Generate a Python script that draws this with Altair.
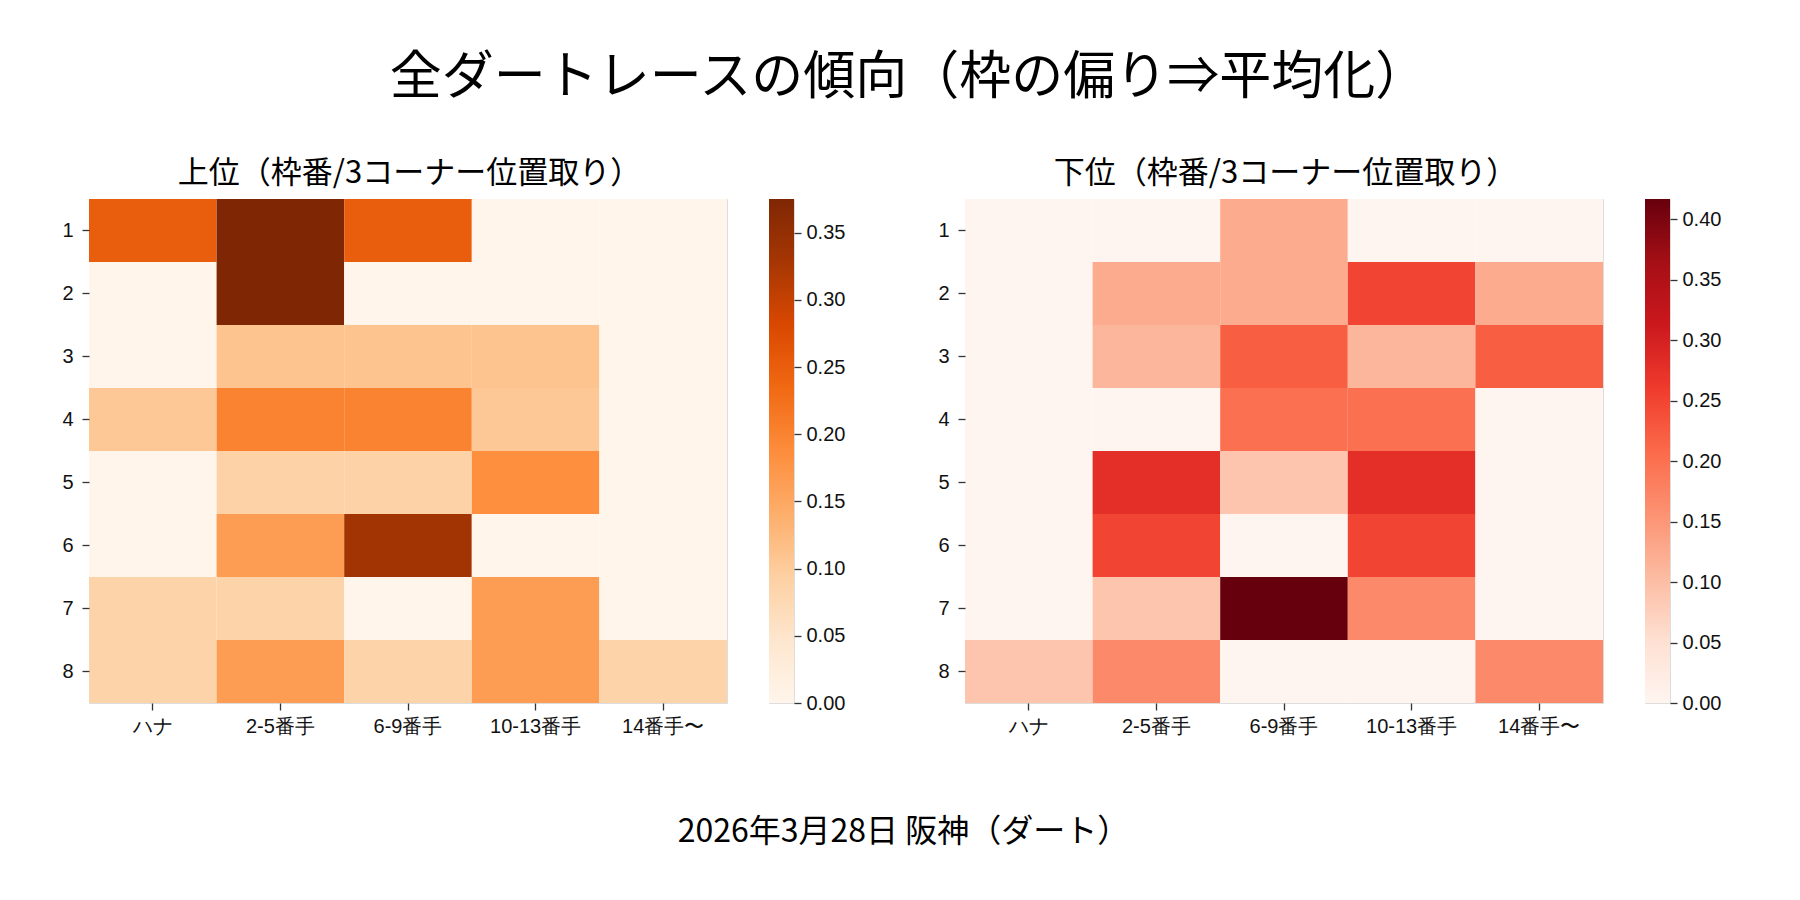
import altair as alt
import pandas as pd

FONT = "Noto Sans CJK JP"

main_title = "全ダートレースの傾向（枠の偏り⇒平均化）"
caption = "2026年3月28日 阪神（ダート）"
top_title = "上位（枠番/3コーナー位置取り）"
bottom_title = "下位（枠番/3コーナー位置取り）"

positions = ["ハナ", "2-5番手", "6-9番手", "10-13番手", "14番手〜"]
frames = [1, 2, 3, 4, 5, 6, 7, 8]

top_values = [
    [0.25, 0.375, 0.25, 0.0, 0.0],
    [0.0, 0.375, 0.0, 0.0, 0.0],
    [0.0, 0.11, 0.11, 0.11, 0.0],
    [0.105, 0.20, 0.20, 0.105, 0.0],
    [0.0, 0.09, 0.09, 0.185, 0.0],
    [0.0, 0.165, 0.333, 0.0, 0.0],
    [0.085, 0.085, 0.0, 0.165, 0.0],
    [0.085, 0.165, 0.085, 0.165, 0.085],
]
bottom_values = [
    [0.0, 0.0, 0.125, 0.0, 0.0],
    [0.0, 0.125, 0.125, 0.25, 0.125],
    [0.0, 0.111, 0.222, 0.111, 0.222],
    [0.0, 0.0, 0.20, 0.20, 0.0],
    [0.0, 0.278, 0.09, 0.278, 0.0],
    [0.0, 0.25, 0.0, 0.25, 0.0],
    [0.0, 0.09, 0.4167, 0.167, 0.0],
    [0.09, 0.167, 0.0, 0.0, 0.167],
]
top_ticks = [0.00, 0.05, 0.10, 0.15, 0.20, 0.25, 0.30, 0.35]
bottom_ticks = [0.00, 0.05, 0.10, 0.15, 0.20, 0.25, 0.30, 0.35, 0.40]

ORANGES = ["#fff5eb", "#fee6ce", "#fdd0a2", "#fdae6b", "#fd8d3c",
           "#f16913", "#d94801", "#a63603", "#7f2704"]
REDS = ["#fff5f0", "#fee0d2", "#fcbba1", "#fc9272", "#fb6a4a",
        "#ef3b2c", "#cb181d", "#a50f15", "#67000d"]

TICK_COLOR = "#333333"
LABEL_COLOR = "#111111"


def panel(values, title, colors, ticks, field):
    rows = []
    for i, f in enumerate(frames):
        for j, p in enumerate(positions):
            rows.append({"frame": f, "pos": p, field: values[i][j]})
    df = pd.DataFrame(rows)
    vmax = max(max(r) for r in values)
    vmin = min(min(r) for r in values)
    n = len(colors) - 1
    stops = [vmin + (vmax - vmin) * k / n for k in range(n + 1)]

    heat = alt.Chart(df).mark_rect().encode(
        x=alt.X("pos:N", sort=positions, title=None,
                scale=alt.Scale(paddingInner=0, paddingOuter=0),
                axis=alt.Axis(labelAngle=0, domain=False, tickSize=7, tickWidth=1.3,
                              tickColor=TICK_COLOR, labelFontSize=20, labelColor=LABEL_COLOR,
                              labelPadding=6)),
        y=alt.Y("frame:O", sort=frames, title=None,
                scale=alt.Scale(paddingInner=0, paddingOuter=0),
                axis=alt.Axis(labelAngle=0, domain=False, tickSize=7, tickWidth=1.3,
                              tickColor=TICK_COLOR, labelFontSize=20, labelColor=LABEL_COLOR,
                              labelPadding=9, minExtent=30, maxExtent=30)),
        color=alt.Color(f"{field}:Q", legend=None,
                        scale=alt.Scale(domain=stops, range=colors, interpolate="rgb")),
    ).properties(width=638, height=504)

    cb_df = pd.DataFrame({"lo": [vmin], "hi": [vmax]})
    grad = alt.LinearGradient(
        gradient="linear",
        stops=[alt.GradientStop(offset=k / n, color=c) for k, c in enumerate(colors)],
        x1=0, x2=0, y1=1, y2=0,
    )
    cbar = alt.Chart(cb_df).mark_rect(color=grad).encode(
        y=alt.Y("lo:Q", title=None,
                scale=alt.Scale(domain=[vmin, vmax], nice=False, zero=False),
                axis=alt.Axis(orient="right", values=ticks, format=".2f", domain=False,
                              grid=False, tickSize=7, tickWidth=1.3, tickColor=TICK_COLOR,
                              labelFontSize=20, labelColor=LABEL_COLOR, labelPadding=5,
                              labelOverlap=False, minExtent=70, maxExtent=70)),
        y2="hi:Q",
        x=alt.value(0),
        x2=alt.value(25),
    ).properties(width=25, height=504)

    return alt.hconcat(heat, cbar, spacing=40).resolve_scale(y="independent").properties(
        title=alt.Title(title, fontSize=31, anchor="middle", dx=-52, font=FONT,
                        fontWeight="normal", baseline="alphabetic", offset=-15)
    )


left = panel(top_values, top_title, ORANGES, top_ticks, "top_value")
right = panel(bottom_values, bottom_title, REDS, bottom_ticks, "bottom_value")

both = alt.hconcat(left, right, spacing=69).resolve_scale(
    color="independent", y="independent", x="independent"
).properties(
    title=alt.Title(caption, orient="bottom", fontSize=32, anchor="middle", font=FONT,
                    fontWeight="normal", baseline="alphabetic", offset=105, dx=4)
)

chart = alt.vconcat(both).properties(
    title=alt.Title(main_title, fontSize=52, anchor="middle", font=FONT,
                    fontWeight="normal", baseline="alphabetic", offset=12, dx=9),
    padding={"left": 50, "top": 43, "right": 20, "bottom": 10},
).configure_view(stroke=None).configure_axis(
    grid=False, labelFont=FONT
).configure_title(
    font=FONT, color="#000000", fontWeight="normal"
).configure(background="white")

chart.save("out.html", embed_options={"renderer": "svg", "actions": False})
